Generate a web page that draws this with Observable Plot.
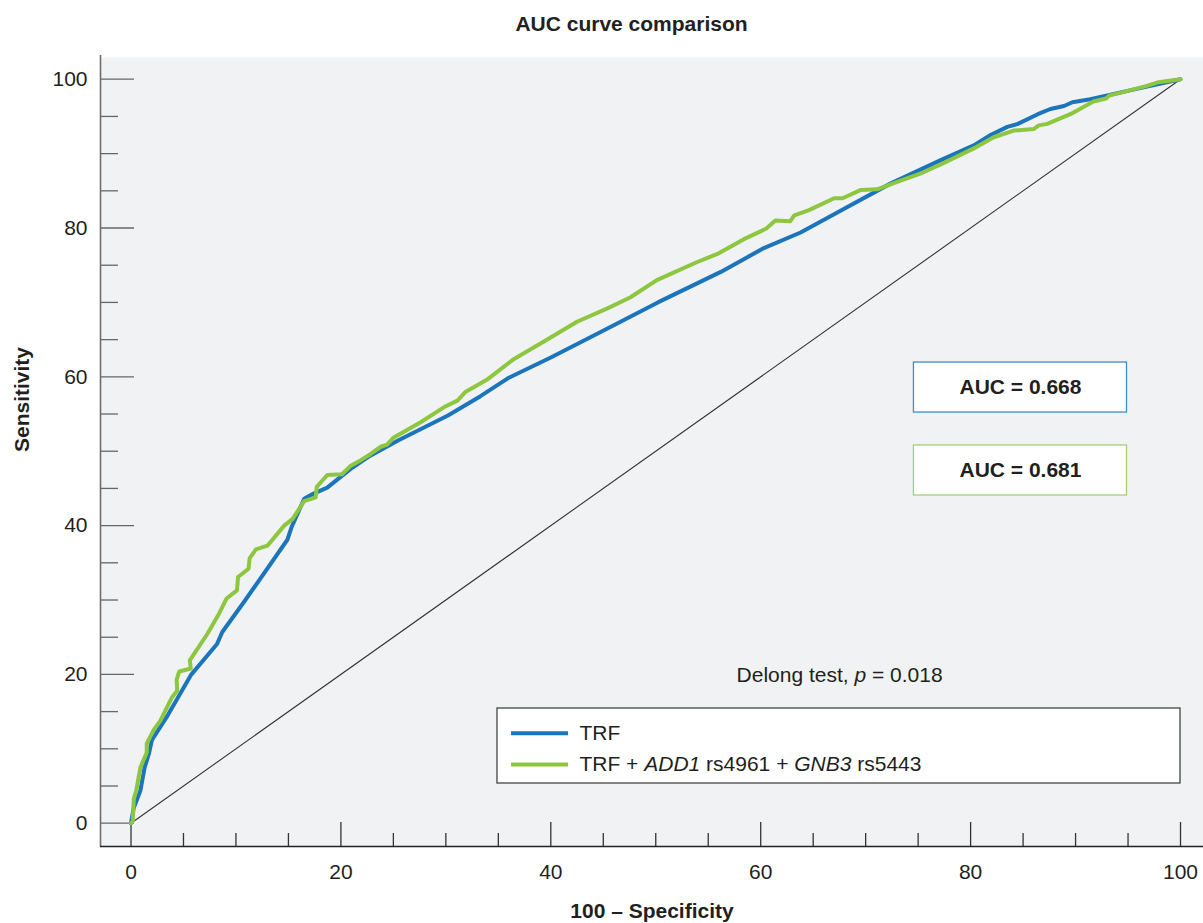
<!DOCTYPE html>
<html><head><meta charset="utf-8">
<script src="https://cdn.jsdelivr.net/npm/d3@7"></script>
<script src="https://cdn.jsdelivr.net/npm/@observablehq/plot@0.6"></script>
<style>
body{margin:0;background:#fff;font-family:"Liberation Sans",Arial,sans-serif;}
#title{height:40px;padding-top:4px;line-height:40px;padding-left:60px;text-align:center;font-weight:bold;font-size:21px;color:#231f20;}
</style></head>
<body>
<div id="title">AUC curve comparison</div>
<div id="chart"></div>
<script>
// ---- data ----
const trfSpec = [0,0.25,0.9,1.3,1.7,2.0,3.5,5.7,8.2,8.7,10.9,14.9,15.3,16.5,17.4,18.7,20.9,22.8,25.4,30.2,33.3,35.9,40,45.4,50.2,56.2,60.3,63.8,67.3,72.4,77.1,80.3,81.9,83.5,84.5,86.4,87.6,88.9,89.7,91.4,95.5,100];
const trfSens = [0,2,4.4,7.5,9.3,11.2,14.5,19.9,24.1,25.7,30.0,38.1,39.8,43.6,44.3,45.1,47.6,49.4,51.4,54.8,57.4,59.8,62.6,66.5,70.0,74.1,77.3,79.4,82.1,86.0,89.1,91.1,92.5,93.6,94.0,95.3,96.0,96.4,96.9,97.3,98.6,100];
const comboSpec = [0,0.17,0.27,0.5,0.9,1.5,1.5,2.15,2.8,3.9,4.4,4.35,4.6,5.7,5.6,7.3,8.4,9.1,10.1,10.2,11.2,11.3,11.9,13.0,14.6,15.4,16.5,17.6,17.7,18.7,20.1,20.9,21.9,22.8,23.8,24.4,25.0,27.6,29.8,31.1,31.9,33.9,36.5,39.3,42.5,45.4,47.6,50.1,53.9,56.0,58.4,60.5,61.4,62.8,63.2,64.6,67.0,67.8,69.5,71.1,73.0,75.2,77.4,80.3,82.2,84.1,86.0,86.5,87.3,89.5,91.7,92.9,93.2,96.8,97.9,100];
const comboSens = [0,0.3,3.3,4.4,7.5,9.5,10.7,12.5,13.8,16.9,17.8,19.3,20.4,20.8,21.9,25.5,28.2,30.2,31.3,33.1,34.2,35.6,36.8,37.3,40.0,40.9,43.3,43.8,45.2,46.8,46.9,48.0,48.8,49.6,50.6,50.9,51.8,53.9,55.9,56.8,58.0,59.6,62.4,64.7,67.4,69.2,70.7,73.0,75.4,76.6,78.5,79.9,81.0,80.9,81.7,82.4,84.0,84.0,85.1,85.2,86.2,87.3,88.7,90.7,92.2,93.1,93.3,93.8,94.0,95.3,97.0,97.4,97.8,99.1,99.6,100];
const refSpec = [0,100];
const refSens = [0,100];
const seriesNames = ["TRF", "TRF + *ADD1* rs4961 + *GNB3* rs5443"];
const aucLabels = ["AUC = 0.668", "AUC = 0.681"];
const delongLabel = "Delong test, *p* = 0.018";
const xMajor = [0,20,40,60,80,100];
const xMinor = [5,10,15,25,30,35,45,50,55,65,70,75,85,90,95];
const yMajor = [0,20,40,60,80,100];
const yMinor = [5,10,15,25,30,35,45,50,55,65,70,75,85,90,95];
const xLabel = "100 \u2013 Specificity";
const yLabel = "Sensitivity";

// ---- layout ----
const W = 1203, H = 879, mL = 100, mR = 0, mT = 13, mB = 77;
const frameW = W - mL - mR, frameH = H - mT - mB;
const xDom = [-2.906, 102.19], yDom = [-3.13, 102.92];
const blue = "#1b75bc", green = "#8dc63f";
const ink = "#231f20";

const idx = a => d3.range(a.length);

const chart = Plot.plot({
  width: W, height: H,
  marginLeft: mL, marginRight: mR, marginTop: mT, marginBottom: mB,
  style: {fontFamily: "'Liberation Sans', Arial, sans-serif", fontSize: "21px", background: "white", color: ink, overflow: "visible"},
  x: {domain: xDom},
  y: {domain: yDom},
  marks: [
    Plot.frame({fill: "#f1f2f4", stroke: null}),
    // ticks (inside)
    Plot.ruleY(yMinor, {y: d => d, stroke: "#666", strokeWidth: 1.3, insetRight: frameW - 18}),
    Plot.ruleY(yMajor, {y: d => d, stroke: "#666", strokeWidth: 1.3, insetRight: frameW - 34}),
    Plot.ruleX(xMinor, {x: d => d, stroke: "#333", strokeWidth: 1.3, insetTop: frameH - 13}),
    Plot.ruleX(xMajor, {x: d => d, stroke: "#333", strokeWidth: 1.3, insetTop: frameH - 24}),
    // axis lines
    Plot.ruleX([xDom[0]], {stroke: "#6d6d6d", strokeWidth: 1.6, insetTop: -2}),
    Plot.ruleY([yDom[0]], {stroke: "#222", strokeWidth: 1.6}),
    Plot.axisY({ticks: yMajor, tickSize: 0, tickPadding: 13, label: null}),
    Plot.axisX({ticks: xMajor, tickSize: 0, tickPadding: 18, label: null}),
    // reference diagonal
    Plot.line(idx(refSpec), {x: i => refSpec[i], y: i => refSens[i], stroke: "#333", strokeWidth: 1.1}),
    // curves
    Plot.line(idx(trfSpec), {x: i => trfSpec[i], y: i => trfSens[i], stroke: blue, strokeWidth: 4, curve: "linear"}),
    Plot.line(idx(comboSpec), {x: i => comboSpec[i], y: i => comboSens[i], stroke: green, strokeWidth: 4, curve: "linear"}),
    // AUC boxes
    Plot.rect([0], {x1: 74.6, x2: 94.9, y1: 55.2, y2: 61.92, fill: "white", stroke: "#3a8dd3", strokeWidth: 1.3}),
    Plot.rect([1], {x1: 74.6, x2: 94.9, y1: 44.05, y2: 50.77, fill: "white", stroke: "#a4d06f", strokeWidth: 1.3}),
    Plot.text([0], {x: 84.75, y: 58.56, text: () => aucLabels[0], fontWeight: "bold", fontSize: 21, fill: ink}),
    Plot.text([1], {x: 84.75, y: 47.41, text: () => aucLabels[1], fontWeight: "bold", fontSize: 21, fill: ink}),
    // Delong test
    Plot.text([0], {x: 57.7, y: 19.85, text: () => delongLabel, textAnchor: "start", fontSize: 21, fill: ink}),
    // legend
    Plot.rect([0], {x1: 34.92, x2: 100.0, y1: 5.34, y2: 15.42, fill: "white", stroke: "#444", strokeWidth: 1.3}),
    Plot.ruleY([12.1], {x1: 36.26, x2: 41.69, stroke: blue, strokeWidth: 4}),
    Plot.ruleY([7.89], {x1: 36.26, x2: 41.69, stroke: green, strokeWidth: 4}),
    Plot.text([0], {x: 42.73, y: 12.1, text: () => seriesNames[0], textAnchor: "start", fontSize: 21, fill: ink}),
    Plot.text([1], {x: 42.73, y: 7.89, text: () => seriesNames[1], textAnchor: "start", fontSize: 21, fill: ink}),
    // axis titles
    Plot.text([yLabel], {frameAnchor: "left", dx: -78, rotate: -90, text: d => d, fontWeight: "bold", fontSize: 21, lineAnchor: "middle", fill: ink}),
    Plot.text([xLabel], {frameAnchor: "bottom", dy: 65, text: d => d, fontWeight: "bold", fontSize: 21, lineAnchor: "middle", fill: ink})
  ]
});

// italic segments marked with *...*
d3.select(chart).selectAll("text").each(function() {
  const s = this.textContent;
  if (!s.includes("*")) return;
  const parts = s.split("*");
  this.textContent = "";
  parts.forEach((p, i) => {
    if (!p) return;
    const t = d3.select(this).append("tspan").text(p);
    if (i % 2) t.attr("font-style", "italic");
  });
});

document.getElementById("chart").appendChild(chart);
</script>
</body></html>
